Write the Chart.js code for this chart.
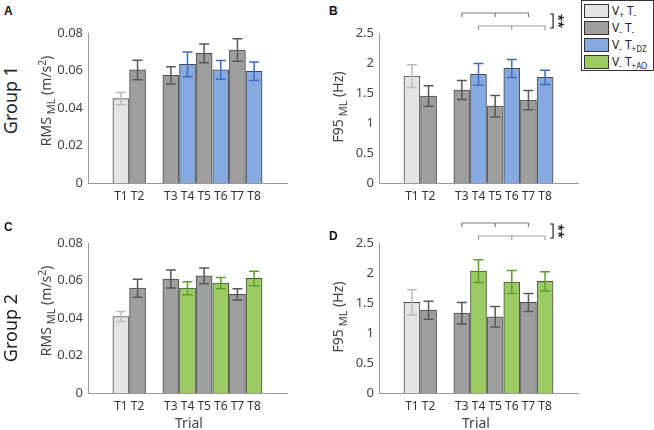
<!DOCTYPE html>
<html>
<head>
<meta charset="utf-8">
<script src="https://cdn.jsdelivr.net/npm/chart.js@4"></script>
<style>
  body { margin: 0; background: #fff; font-family: "Noto Sans", "Open Sans", sans-serif; color: #333; }
  #wrap { position: relative; width: 654px; height: 430px; overflow: hidden; }
  canvas { position: absolute; }
  .rot { position: absolute; white-space: nowrap; transform: translate(-50%, -50%) rotate(-90deg); }
  .ytitle { font-size: 14px; color: #444; }
  .ytitle sub { font-size: 11px; vertical-align: -4px; }
  .ytitle sup { font-size: 10px; vertical-align: 5px; }
  .group { font-size: 18px; color: #222; }
  .letter { position: absolute; font: bold 12px "Liberation Sans", Arial, sans-serif; color: #111; }
  .xtitle { position: absolute; font-size: 14px; color: #444; transform: translate(-50%, -50%); }
  #legend { position: absolute; left: 581px; top: 0px; width: 71px; height: 69px; border: 1px solid #333; background: #fff; }
  .item { position: absolute; left: 2px; height: 14px; font-size: 12px; line-height: 14px; color: #222; white-space: nowrap; }
  .item span.sw { display: inline-block; width: 23px; height: 12px; border: 1px solid #333; vertical-align: top; margin-right: 3px; }
  .item sub { font-size: 8px; vertical-align: -3px; }
</style>
</head>
<body>
<div id="wrap">
  <canvas id="cA" width="250" height="215" style="left:50px;top:0px"></canvas>
  <canvas id="cB" width="250" height="215" style="left:341px;top:0px"></canvas>
  <canvas id="cC" width="250" height="215" style="left:50px;top:210px"></canvas>
  <canvas id="cD" width="250" height="215" style="left:341px;top:210px"></canvas>

  <div class="letter" style="left:4px;top:4px">A</div>
  <div class="letter" style="left:329px;top:4px">B</div>
  <div class="letter" style="left:4px;top:220px">C</div>
  <div class="letter" style="left:329px;top:229px">D</div>

  <div class="rot group" style="left:10px;top:100px">Group 1</div>
  <div class="rot group" style="left:10px;top:328px">Group 2</div>

  <div class="rot ytitle" style="left:46px;top:101px">RMS<sub> ML</sub> (m/s<sup>2</sup>)</div>
  <div class="rot ytitle" style="left:339px;top:107px">F95<sub> ML</sub> (Hz)</div>
  <div class="rot ytitle" style="left:46px;top:311px">RMS<sub> ML</sub> (m/s<sup>2</sup>)</div>
  <div class="rot ytitle" style="left:339px;top:317px">F95<sub> ML</sub> (Hz)</div>

  <div class="xtitle" style="left:189px;top:422px">Trial</div>
  <div class="xtitle" style="left:476px;top:422px">Trial</div>

  <div id="legend"></div>
</div>
<script>
// trial slots (empty string = gap between T2 and T3)
const trials = ["T1", "T2", "", "T3", "T4", "T5", "T6", "T7", "T8"];

// condition of each slot per group
const condG1 = ["vpt", "vt", null, "vt", "dz", "vt", "dz", "vt", "dz"];
const condG2 = ["vpt", "vt", null, "vt", "ao", "vt", "ao", "vt", "ao"];

const rmsG1 = [0.0450, 0.0603, null, 0.0574, 0.0633, 0.0692, 0.0604, 0.0709, 0.0596];
const rmsG1Err = [0.0033, 0.0052, null, 0.0046, 0.0066, 0.0050, 0.0050, 0.0060, 0.0049];
const f95G1 = [1.78, 1.45, null, 1.55, 1.81, 1.28, 1.91, 1.38, 1.76];
const f95G1Err = [0.19, 0.17, null, 0.16, 0.18, 0.18, 0.15, 0.16, 0.12];

const rmsG2 = [0.0408, 0.0559, null, 0.0608, 0.0559, 0.0625, 0.0586, 0.0526, 0.0611];
const rmsG2Err = [0.0027, 0.0048, null, 0.0048, 0.0035, 0.0042, 0.0030, 0.0030, 0.0039];
const f95G2 = [1.51, 1.38, null, 1.33, 2.03, 1.27, 1.85, 1.51, 1.86];
const f95G2Err = [0.21, 0.15, null, 0.18, 0.19, 0.17, 0.19, 0.15, 0.16];

const rmsTicks = [0, 0.02, 0.04, 0.06, 0.08];
const f95Ticks = [0, 0.5, 1, 1.5, 2, 2.5];

// significance brackets: [from slot, to slot, middle slot]
const brackets = [[3, 7, 5], [4, 8, 6]];

const legendItems = [
  { cond: "vpt", html: "V<sub>+</sub> T<sub>-</sub>" },
  { cond: "vt", html: "V<sub>-</sub> T<sub>-</sub>" },
  { cond: "dz", html: "V<sub>-</sub> T<sub>+DZ</sub>" },
  { cond: "ao", html: "V<sub>-</sub> T<sub>+AO</sub>" },
];

const fill = { vpt: "#e4e4e4", vt: "#9e9e9e", dz: "#86a9e0", ao: "#9dcb63" };
const errColor = { vpt: "#bdbdbd", vt: "#585858", dz: "#3e6dc2", ao: "#5c9c2c" };

document.getElementById("legend").innerHTML = legendItems
  .map((it, i) => `<div class="item" style="top:${3 + i * 17}px"><span class="sw" style="background:${fill[it.cond]}"></span>${it.html}</div>`)
  .join("");

const errorBars = {
  id: "errorBars",
  afterDatasetsDraw(chart) {
    const ds = chart.data.datasets[0];
    const meta = chart.getDatasetMeta(0);
    const y = chart.scales.y;
    const ctx = chart.ctx;
    ctx.save();
    ctx.lineWidth = 1.5;
    meta.data.forEach((bar, i) => {
      const pt = ds.data[i];
      const top = y.getPixelForValue(pt.y + pt.err);
      const bot = y.getPixelForValue(pt.y - pt.err);
      ctx.strokeStyle = errColor[pt.cond];
      ctx.beginPath();
      ctx.moveTo(bar.x, top); ctx.lineTo(bar.x, bot);
      ctx.moveTo(bar.x - 5, top); ctx.lineTo(bar.x + 5, top);
      ctx.moveTo(bar.x - 5, bot); ctx.lineTo(bar.x + 5, bot);
      ctx.stroke();
    });
    ctx.restore();
  },
};

const sigBrackets = {
  id: "sigBrackets",
  afterDraw(chart, args, opts) {
    if (!opts.show) return;
    const x = chart.scales.x;
    const ctx = chart.ctx;
    ctx.save();
    ctx.lineWidth = 1.2;
    const rows = [13, 26];
    const cols = ["#7a7a7a", "#9c9c9c"];
    brackets.forEach((b, k) => {
      const yy = rows[k];
      const x0 = x.getPixelForValue(b[0]);
      const x1 = x.getPixelForValue(b[1]);
      const xm = x.getPixelForValue(b[2]);
      ctx.strokeStyle = cols[k];
      ctx.beginPath();
      ctx.moveTo(x0, yy + 4); ctx.lineTo(x0, yy); ctx.lineTo(x1, yy); ctx.lineTo(x1, yy + 4);
      ctx.moveTo(xm, yy); ctx.lineTo(xm, yy + 4);
      ctx.stroke();
    });
    const bx = x.getPixelForValue(8) + 5;
    ctx.strokeStyle = "#222";
    ctx.lineWidth = 1.2;
    ctx.beginPath();
    ctx.moveTo(bx, 14); ctx.lineTo(bx + 3, 14); ctx.lineTo(bx + 3, 28); ctx.lineTo(bx, 28);
    ctx.stroke();
    ctx.translate(bx + 8, 21);
    ctx.rotate(Math.PI / 2);
    ctx.fillStyle = "#222";
    ctx.font = "bold 13px 'Noto Sans'";
    ctx.textAlign = "center";
    ctx.textBaseline = "middle";
    ctx.fillText("**", 0, 0);
    ctx.restore();
  },
};

function makePanel(id, values, errs, conds, yTicks, showSig) {
  const pts = [];
  values.forEach((v, i) => {
    if (v != null) pts.push({ x: i, y: v, err: errs[i], cond: conds[i] });
  });
  const slots = trials.map((t, i) => i).filter((i) => trials[i] !== "");
  const yMax = yTicks[yTicks.length - 1];
  return new Chart(document.getElementById(id), {
    type: "bar",
    data: {
      datasets: [{
        data: pts,
        backgroundColor: pts.map((p) => fill[p.cond]),
        borderColor: "#4a4a4a",
        borderWidth: 1,
        barThickness: 16,
      }],
    },
    options: {
      responsive: false,
      animation: false,
      devicePixelRatio: 1,
      layout: { padding: { top: 33, right: 13, bottom: 0, left: 0 } },
      plugins: { legend: { display: false }, tooltip: { enabled: false }, sigBrackets: { show: showSig } },
      scales: {
        x: {
          type: "linear",
          min: -1.23,
          max: 9.23,
          afterBuildTicks: (s) => { s.ticks = slots.map((v) => ({ value: v })); },
          afterFit: (s) => { s.height = 32; },
          grid: { display: false, drawTicks: false, tickLength: 0 },
          border: { color: "#9a9a9a", width: 1 },
          ticks: {
            callback: (v) => trials[v],
            color: "#333",
            padding: 6,
            maxRotation: 0,
            autoSkip: false,
            font: { family: "Noto Sans", size: 12 },
          },
        },
        y: {
          min: 0,
          max: yMax,
          afterBuildTicks: (s) => { s.ticks = yTicks.map((v) => ({ value: v })); },
          afterFit: (s) => { s.width = 38; },
          grid: { display: false, drawTicks: false, tickLength: 0 },
          border: { color: "#9a9a9a", width: 1 },
          ticks: {
            callback: (v) => String(+v.toFixed(2)),
            color: "#444",
            padding: 5,
            font: { family: "Noto Sans", size: 13 },
          },
        },
      },
    },
    plugins: [errorBars, sigBrackets],
  });
}

makePanel("cA", rmsG1, rmsG1Err, condG1, rmsTicks, false);
makePanel("cB", f95G1, f95G1Err, condG1, f95Ticks, true);
makePanel("cC", rmsG2, rmsG2Err, condG2, rmsTicks, false);
makePanel("cD", f95G2, f95G2Err, condG2, f95Ticks, true);
</script>
</body>
</html>
